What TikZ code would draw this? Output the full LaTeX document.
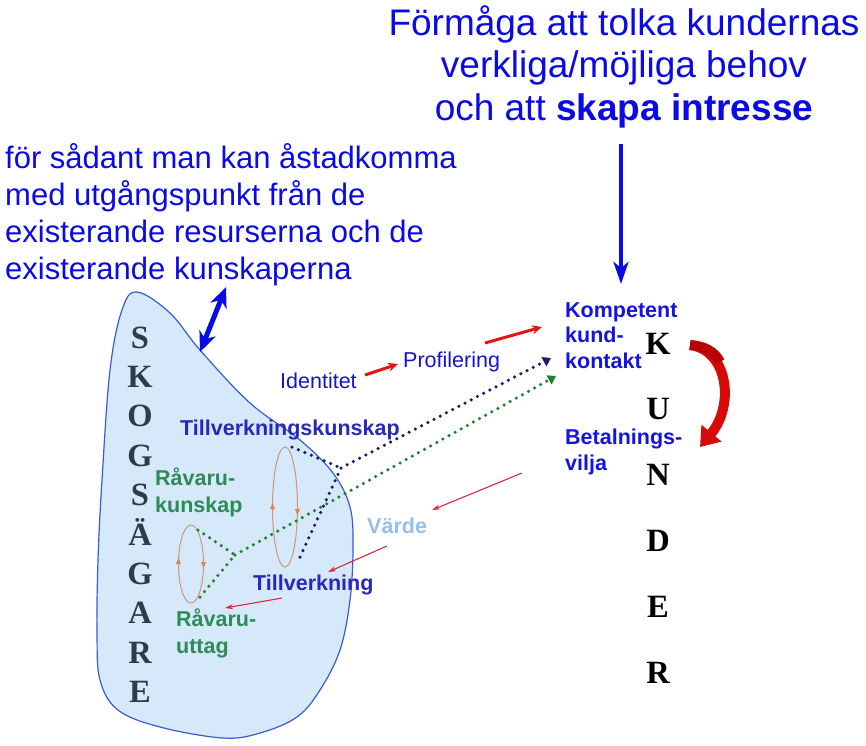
\documentclass[tikz,border=0pt]{standalone}
\usepackage{fontspec}
\setmainfont{Liberation Sans}
\newfontfamily\serifbold{Liberation Serif}
\usetikzlibrary{arrows.meta,shapes.geometric}
\definecolor{titleblue}{RGB}{10,10,230}
\definecolor{labblue}{RGB}{20,20,205}
\definecolor{kblue}{RGB}{20,20,225}
\definecolor{tkblue}{RGB}{40,40,190}
\definecolor{rgreen}{RGB}{46,139,87}
\definecolor{navydot}{RGB}{25,25,110}
\definecolor{greendot}{RGB}{30,130,50}
\definecolor{tanline}{RGB}{205,150,120}
\definecolor{tantip}{RGB}{230,130,80}
\definecolor{thinred}{RGB}{220,40,60}
\definecolor{boldred}{RGB}{230,20,20}
\definecolor{blobfill}{RGB}{214,233,250}
\definecolor{blobline}{RGB}{60,90,210}
\definecolor{skoggray}{RGB}{45,60,75}
\definecolor{vardeblue}{RGB}{150,190,240}
\definecolor{curvered}{RGB}{215,10,10}
\definecolor{curvedark}{RGB}{185,0,0}
\begin{document}
\begin{tikzpicture}[x=1pt,y=-1pt,
  txt/.style={inner sep=0pt, anchor=base west, align=left},
  lab/.style={txt, font=\fontsize{21.5}{26}\selectfont},
  blab/.style={txt, font=\fontsize{21.5}{25.5}\selectfont\bfseries},
  bigletter/.style={inner sep=0pt, anchor=base, font=\fontsize{32.5}{32.5}\selectfont\serifbold\bfseries},
  dotline/.style={line width=3.5pt, line cap=round, dash pattern=on 0pt off 7pt},
  dottip/.style={-{Triangle[width=10pt,length=8pt]}},
  thinarrow/.style={thinred, line width=1.1pt, -{Stealth[length=8pt,width=5pt]}},
  boldarrow/.style={boldred, line width=3pt, -{Stealth[length=10pt,width=9pt]}},
  loopell/.style={draw=tanline, line width=1pt},
  looptip/.style={tantip, line width=0.6pt, -{Triangle[width=5pt,length=6pt]}}
]
\useasboundingbox (0,0) rectangle (866,745);

% blob
\draw[draw=blobline, fill=blobfill, line width=1.2pt] plot[smooth cycle, tension=0.6] coordinates {
 (137,292) (170,313) (200,350) (250,403) (300,440) (333,473) (350,507) (353,547)
 (350,600) (340,650) (320,690) (297,717) (260,733) (223,738) (160,727) (118,710)
 (100,680) (97,633) (98,560) (102,480) (110,370) (122,310)};

% titles (base anchor = baseline of last line)
\node[inner sep=0pt, anchor=base, align=center, text=titleblue,
      font=\fontsize{37}{42.5}\selectfont] (title) at (624,120)
 {Förmåga att tolka kundernas\\verkliga/möjliga behov\\och att \textbf{skapa intresse}};
\node[txt, text=titleblue, font=\fontsize{31}{37}\selectfont] (left) at (5,279)
 {för sådant man kan åstadkomma\\med utgångspunkt från de\\existerande resurserna och de\\existerande kunskaperna};

% SKOGSÄGARE
\foreach \l [count=\i from 0] in {S,K,O,G,S,Ä,G,A,R,E}
  \node[bigletter, text=skoggray] (sk\i) at (140,348+39.4*\i) {\l};
% KUNDER
\foreach \l [count=\i from 0] in {K,U,N,D,E,R}
  \node[bigletter, text=black] (ku\i) at (658,354+65.8*\i) {\l};

% labels
\node[lab, text=labblue] (ident) at (280,388) {Identitet};
\node[lab, text=labblue] (prof) at (403,367) {Profilering};
\node[blab, text=kblue] (komp) at (565,368) {Kompetent\\kund-\\kontakt};
\node[blab, text=kblue] (betal) at (565,470) {Betalnings-\\vilja};
\node[blab, text=tkblue] (tk) at (180,435) {Tillverkningskunskap};
\node[blab, text=rgreen, font=\fontsize{21.5}{26.5}\selectfont\bfseries] (rk) at (155,512) {Råvaru-\\kunskap};
\node[blab, text=rgreen, font=\fontsize{21.5}{26.5}\selectfont\bfseries] (ru) at (176,653) {Råvaru-\\uttag};
\node[blab, text=tkblue] (tv) at (253,590) {Tillverkning};
\node[blab, text=vardeblue] (varde) at (367,533) {Värde};

% loops
\node[ellipse, loopell, minimum width=25pt, minimum height=120pt, inner sep=0pt] (bigloop) at (285,507) {};
\node[ellipse, loopell, minimum width=25pt, minimum height=78pt, inner sep=0pt] (smloop) at (191,564) {};
\draw[looptip] (272.5,510) -- (272.5,503);
\draw[looptip] (297.5,508) -- (297.5,515);
\draw[looptip] (178.5,565) -- (178.5,558);
\draw[looptip] (203.5,561) -- (203.5,568);

% dotted connectors
\coordinate (j1) at (341,468);
\coordinate (tkend) at (292,447);
\coordinate (tvend) at (300,557);
\coordinate (navyend) at (551,358);
\coordinate (j2) at (235,555);
\coordinate (rkend) at (198,530);
\coordinate (ruend) at (200,597);
\coordinate (greenend) at (556,376);
\draw[dotline, navydot] (tkend) -- (j1);
\draw[dotline, navydot] (tvend) -- (j1);
\draw[dotline, navydot, dottip] (j1) -- (navyend);
\draw[dotline, greendot] (rkend) -- (j2);
\draw[dotline, greendot] (ruend) -- (j2);
\draw[dotline, greendot, dottip] (j2) -- (greenend);

% bold red arrows
\coordinate (r1a) at (365,375);
\coordinate (r1b) at (398,364);
\coordinate (r2a) at (485,343);
\coordinate (r2b) at (542,327);
\draw[boldarrow] (r1a) -- (r1b);
\draw[boldarrow] (r2a) -- (r2b);

% thin red arrows
\coordinate (t1a) at (522,473);
\coordinate (t1b) at (432,510);
\coordinate (t2a) at (387,546);
\coordinate (t2b) at (328,572);
\coordinate (t3a) at (282,598);
\coordinate (t3b) at (225,608);
\draw[thinarrow] (t1a) -- (t1b);
\draw[thinarrow] (t2a) -- (t2b);
\draw[thinarrow] (t3a) -- (t3b);

% top arrow
\coordinate (ta1) at (621,144);
\coordinate (ta2) at (621,284);
\draw[titleblue, line width=4pt, -{Stealth[length=22pt,width=15pt,inset=6pt]}] (ta1) -- (ta2);

% double arrow
\coordinate (da1) at (200,352);
\coordinate (da2) at (226,287);
\draw[titleblue, line width=5pt, {Stealth[length=20pt,width=17pt,inset=6pt]}-{Stealth[length=20pt,width=17pt,inset=6pt]}] (da1) -- (da2);

% curved red arrow
\coordinate (ca1) at (690,345);
\coordinate (ca2) at (700,447);
\draw[curvered, line width=10pt, -{Triangle[width=25pt,length=18pt]}] (ca1) .. controls (728,350) and (735,405) .. (ca2);
\draw[curvedark, line width=10pt] (ca1) .. controls (705,346) and (715,352) .. (720,362);
\end{tikzpicture}
\end{document}
